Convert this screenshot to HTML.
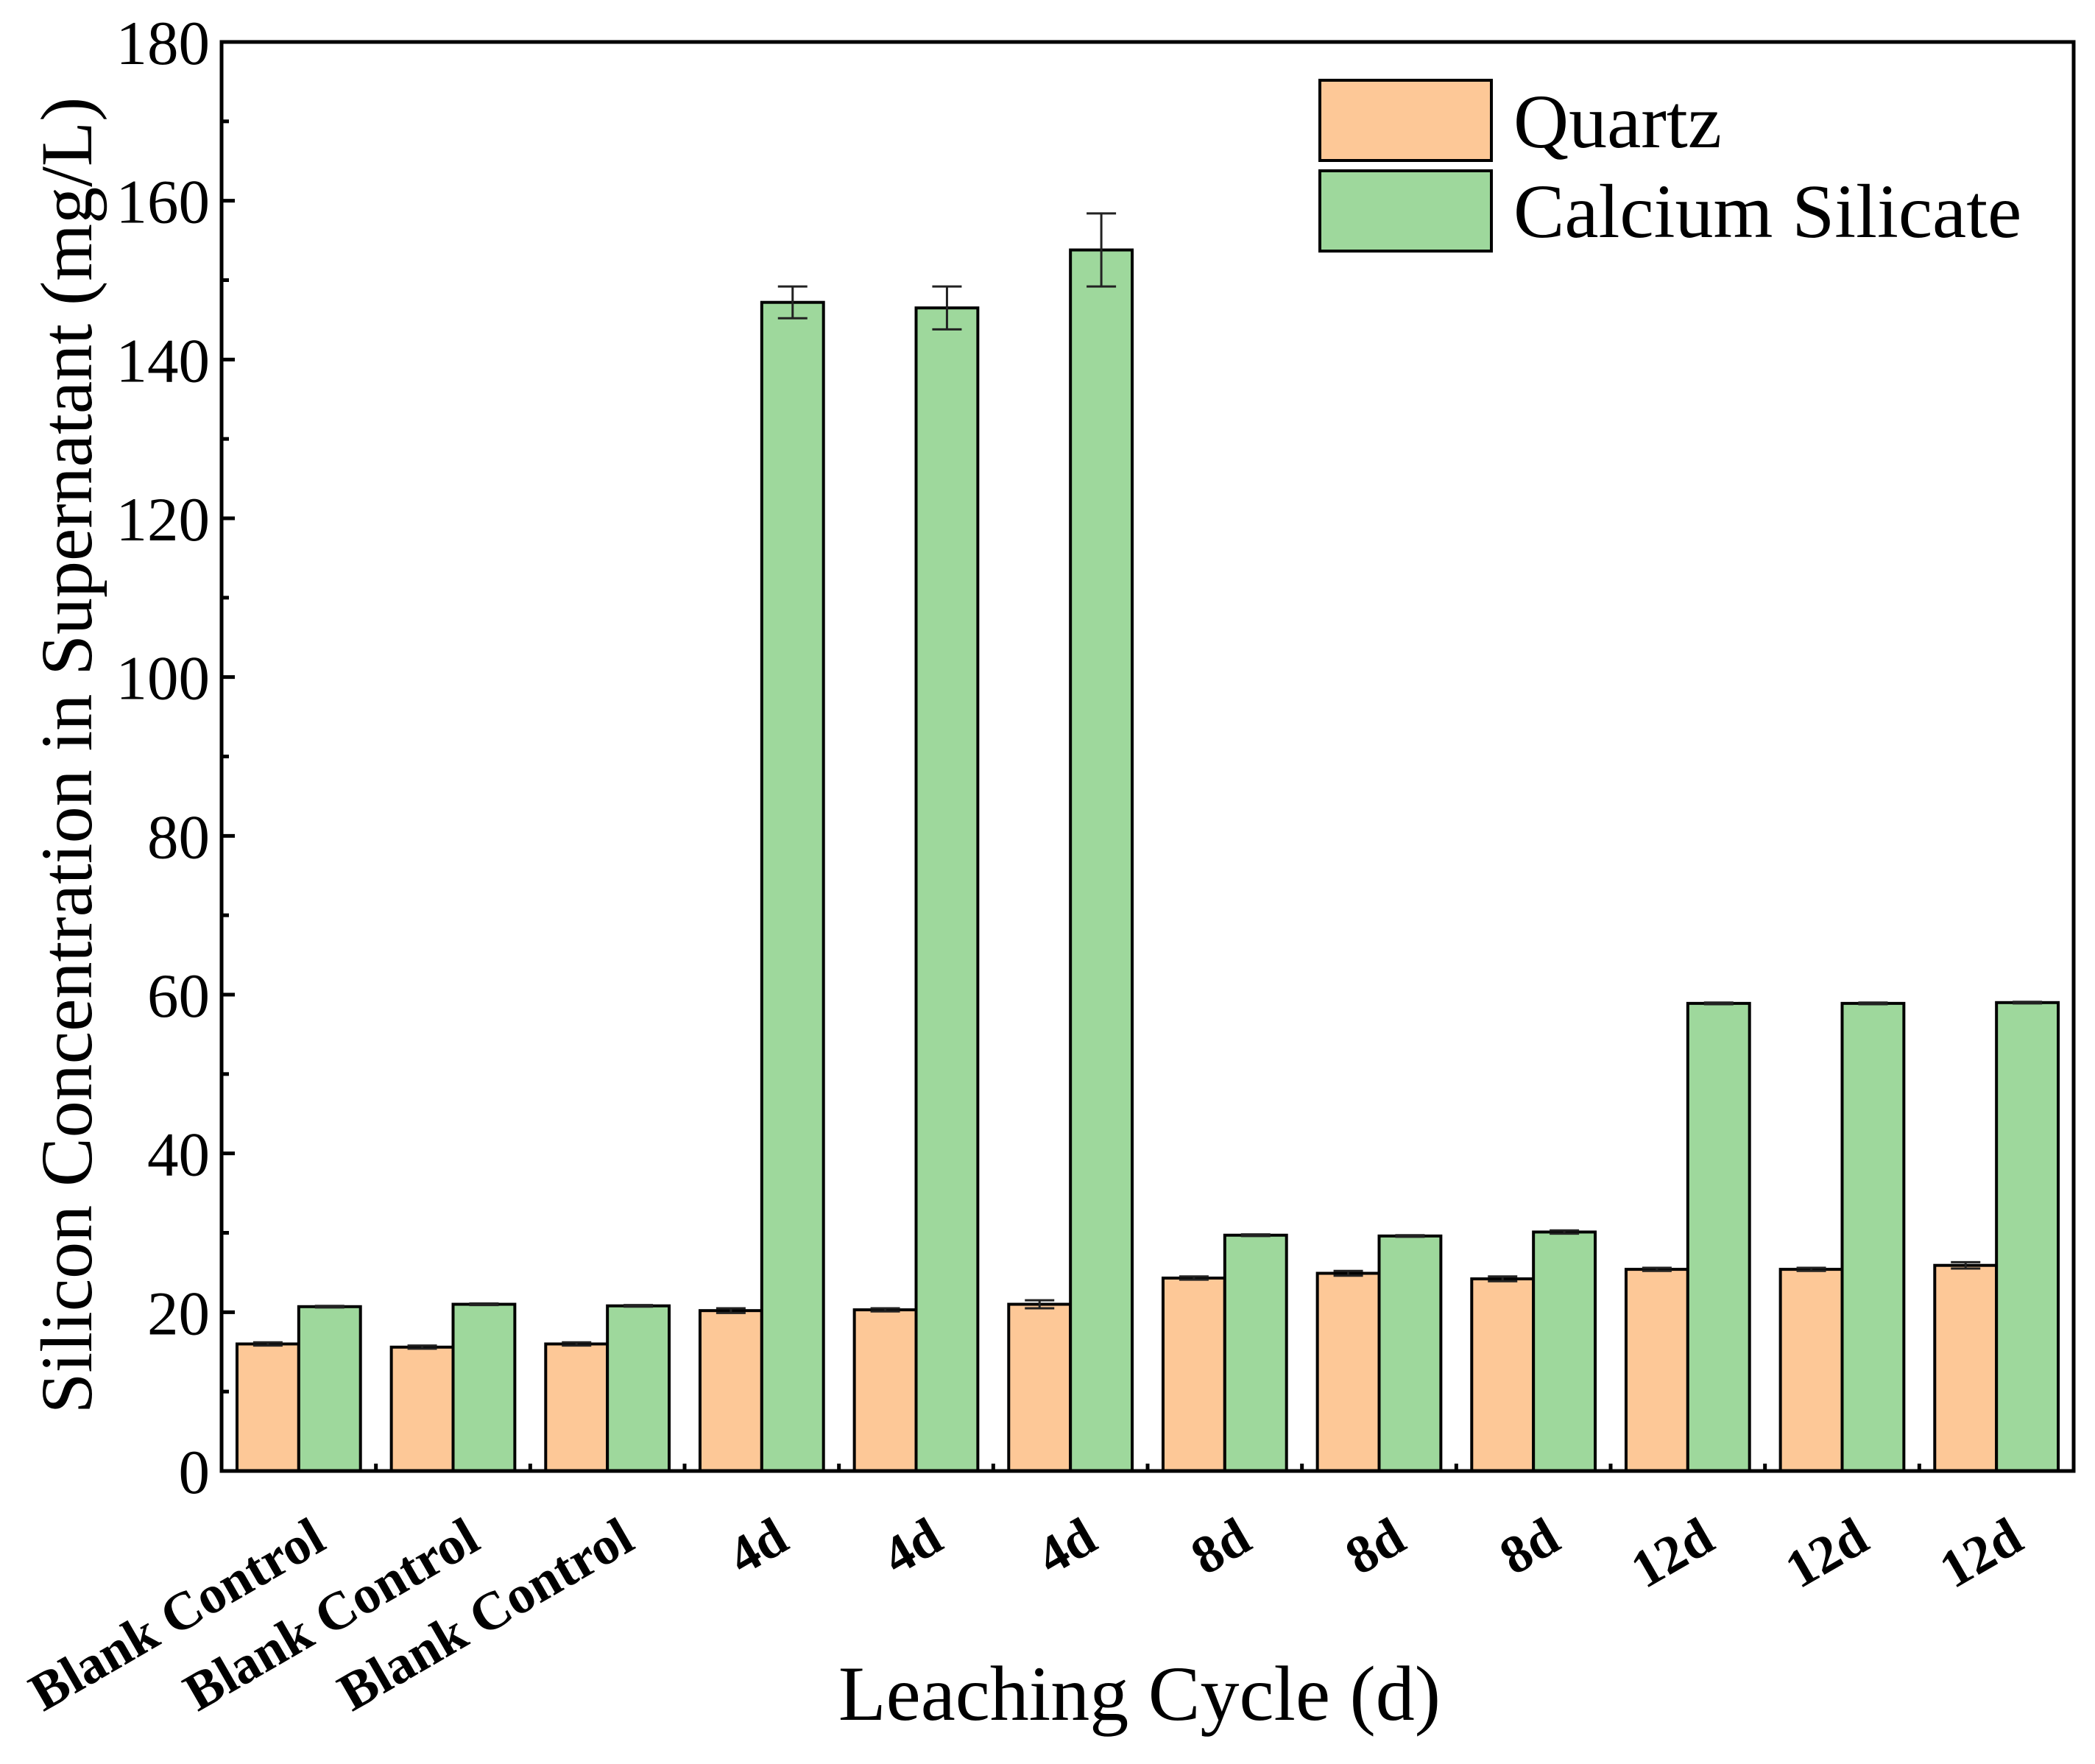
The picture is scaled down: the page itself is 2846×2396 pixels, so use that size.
<!DOCTYPE html>
<html><head><meta charset="utf-8"><style>
html,body{margin:0;padding:0;background:#fff;}
svg{display:block;font-family:"Liberation Serif",serif;}
</style></head><body>
<svg id="chart" width="2846" height="2396" viewBox="0 0 2846 2396" xmlns="http://www.w3.org/2000/svg">
<g id="bars"></g>
<g id="axes"></g>
<g id="legend">
  <rect x="1793" y="109" width="233" height="109" fill="#fdc897" stroke="#000" stroke-width="4"/>
  <text x="2056" y="200" font-size="104">Quartz</text>
  <rect x="1793" y="232" width="233" height="109" fill="#9ed89c" stroke="#000" stroke-width="4"/>
  <text x="2056" y="322" font-size="104">Calcium Silicate</text>
</g>
<text x="1548" y="2336" font-size="106" text-anchor="middle">Leaching Cycle (d)</text>
<text transform="translate(124,1026) rotate(-90)" font-size="100" text-anchor="middle">Silicon Concentration in Supernatant (mg/L)</text>
</svg>
<script>
const categories = ["Blank Control","Blank Control","Blank Control","4d","4d","4d","8d","8d","8d","12d","12d","12d"];
const quartzValues = [16.0,15.6,16.0,20.2,20.3,21.0,24.3,24.9,24.2,25.4,25.4,25.9];
const quartzErrors = [0.2,0.2,0.2,0.3,0.2,0.5,0.2,0.3,0.3,0.2,0.2,0.4];
const calciumValues = [20.7,21.0,20.8,147.2,146.5,153.8,29.7,29.6,30.1,58.9,58.9,59.0];
const calciumErrors = [0.1,0.1,0.1,2.0,2.7,4.6,0.1,0.1,0.2,0.1,0.1,0.1];
const yTicks = [0,20,40,60,80,100,120,140,160,180];

const NS = "http://www.w3.org/2000/svg";
const L = 301, R = 2817, T = 57, B = 1998, YMAX = 180;
const groupW = (R - L) / categories.length;
const barW = groupW * 0.4;
function y(v){ return B - (v / YMAX) * (B - T); }
function gx(i){ return L + groupW * (i + 0.5); }
function mk(tag, attrs, parent){
  const el = document.createElementNS(NS, tag);
  for (const k in attrs) el.setAttribute(k, attrs[k]);
  parent.appendChild(el);
  return el;
}
const bars = document.getElementById('bars');
const axes = document.getElementById('axes');

function drawBar(i, v, e, xLeft, fill, name){
  const r = mk('rect', {x: xLeft, y: y(v), width: barW, height: B - y(v), fill: fill, stroke: '#000', 'stroke-width': 4}, bars);
  
  
  const cx = xLeft + barW / 2;
  const eg = mk('path', {d: `M${cx-20},${y(v+e)}H${cx+20}M${cx},${y(v+e)}V${y(v-e)}M${cx-20},${y(v-e)}H${cx+20}`, stroke: '#222', 'stroke-width': 3, fill: 'none'}, bars);
  
  
}
categories.forEach((c, i) => {
  const cx = gx(i);
  drawBar(i, quartzValues[i], quartzErrors[i], cx - barW, '#fdc897', 'bar-quartz');
  drawBar(i, calciumValues[i], calciumErrors[i], cx, '#9ed89c', 'bar-calcium-silicate');
  const t = mk('text', {transform: `translate(${cx + 40},${2102}) rotate(-30)`, 'font-size': 73, 'font-weight': 'bold', 'text-anchor': 'end'}, axes);
  t.textContent = c;
  
  
  if (i > 0) {
    const tk = mk('line', {x1: L + groupW * i, x2: L + groupW * i, y1: B, y2: B - 10, stroke: '#000', 'stroke-width': 5}, axes);
    
    
  }
});
yTicks.forEach((v, i) => {
  const tk = mk('line', {x1: L, x2: L + 18, y1: y(v), y2: y(v), stroke: '#000', 'stroke-width': 5}, axes);
  
  
  if (i < yTicks.length - 1) {
    const mt = mk('line', {x1: L, x2: L + 10, y1: y(v + 10), y2: y(v + 10), stroke: '#000', 'stroke-width': 5}, axes);
    
    
  }
  const t = mk('text', {x: 285, y: y(v) + 30, 'font-size': 85, 'text-anchor': 'end'}, axes);
  t.textContent = v;
  
  
});
const frame = mk('rect', {x: L, y: T, width: R - L, height: B - T, fill: 'none', stroke: '#000', 'stroke-width': 5}, axes);


</script>
</body></html>
